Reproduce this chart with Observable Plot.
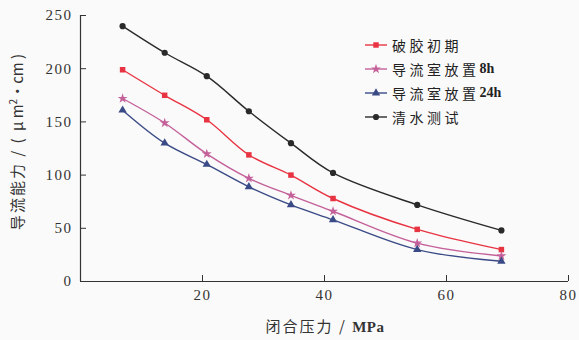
<!DOCTYPE html>
<html><head><meta charset="utf-8">
<script src="https://cdn.jsdelivr.net/npm/d3@7"></script>
<script src="https://cdn.jsdelivr.net/npm/@observablehq/plot@0.6"></script>
<style>
body{margin:0;background:#fafafa;}
#wrap{position:relative;width:579px;height:340px;}
#wrap svg text{font-family:"Liberation Serif",serif;font-size:15px;letter-spacing:1.5px;}
#legend{position:absolute;left:364px;top:33px;font-family:"Noto Sans CJK SC",serif;font-size:14px;color:#222;}
#legend div{display:flex;align-items:center;height:24px;}
#legend svg{margin-right:4px;}
#legend .cjk{letter-spacing:3.5px;}
#legend .lat{font-family:"Liberation Serif",serif;font-weight:bold;font-size:14px;}
</style></head>
<body><div id="wrap"><div id="legend"></div></div>
<script>
const pressure = [6.9, 13.8, 20.7, 27.6, 34.5, 41.4, 55.2, 69];
const seriesNames = ["破胶初期", "导流室放置8h", "导流室放置24h", "清水测试"];
const breakInitial = [199, 175, 152, 119, 100, 78, 49, 30];
const chamber8h = [172, 149, 120, 97, 81, 66, 36, 24];
const chamber24h = [161, 130, 110, 89, 72, 58, 30, 19];
const cleanWater = [240, 215, 193, 160, 130, 102, 72, 48];
const colors = ["#e83442", "#c4609a", "#3a4a86", "#2a2a2a"];
const symbols = ["square", "star", "triangle", "circle"];
const xTicks = [20, 40, 60, 80];
const yTicks = [0, 50, 100, 150, 200, 250];

const allSeries = [breakInitial, chamber8h, chamber24h, cleanWater];
const data = allSeries.flatMap((vals, i) => vals.map((v, j) => ({x: pressure[j], y: v, s: seriesNames[i]})));

const chart = Plot.plot({
  width: 579, height: 340,
  marginLeft: 80, marginRight: 11, marginTop: 15, marginBottom: 59,
  style: {background: "transparent", fontFamily: "'Liberation Serif', serif", fontSize: "15px", color: "#333"},
  x: {domain: [0, 80], ticks: xTicks, tickSize: -6, tickPadding: 14, label: null},
  y: {domain: [0, 250], ticks: yTicks, tickSize: -6, tickPadding: 14, label: null},
  color: {domain: seriesNames, range: colors},
  symbol: {domain: seriesNames, range: symbols},
  marks: [
    Plot.ruleX([0], {stroke: "#333", strokeWidth: 1.2}),
    Plot.ruleY([0], {stroke: "#333", strokeWidth: 1.2}),
    Plot.line(data, {x: "x", y: "y", z: "s", stroke: "s", curve: "catmull-rom", strokeWidth: 1.4}),
    Plot.dot(data, {x: "x", y: "y", fill: "s", symbol: "s", r: 3.1, stroke: "none"})
  ]
});
document.getElementById("wrap").appendChild(chart);

// axis titles
const svg = d3.select(chart);
const xt = svg.append("text").attr("x", 325).attr("y", 332).attr("text-anchor", "middle")
  .style("font-family", "'Noto Sans CJK SC', serif").style("font-size", "15px").style("letter-spacing", "2px").attr("fill", "#333");
xt.append("tspan").text("闭合压力 / ");
xt.append("tspan").style("font-family", "'Liberation Serif', serif").style("font-weight", "bold").style("letter-spacing", "0.5px").text("MPa");

const yt = svg.append("text").attr("transform", "translate(23,142) rotate(-90)").attr("text-anchor", "middle")
  .style("font-family", "'Noto Sans CJK SC', serif").style("font-size", "15px").style("letter-spacing", "2px").attr("fill", "#333");
yt.append("tspan").text("导流能力 / ( ");
yt.append("tspan").style("letter-spacing", "0px").text("μ m");
yt.append("tspan").attr("dy", -6).style("font-size", "10px").style("letter-spacing", "0px").text("2");
yt.append("tspan").attr("dy", 6).style("letter-spacing", "0px").text("·cm )");

// legend
const symGen = [d3.symbolSquare, d3.symbolStar, d3.symbolTriangle, d3.symbolCircle];
const leg = d3.select("#legend");
seriesNames.forEach((n, i) => {
  const row = leg.append("div");
  const s = row.append("svg").attr("width", 24).attr("height", 12);
  s.append("line").attr("x1", 1).attr("x2", 23).attr("y1", 6).attr("y2", 6).attr("stroke", colors[i]).attr("stroke-width", 1.4);
  s.append("path").attr("transform", "translate(12,6)").attr("fill", colors[i]).attr("d", d3.symbol(symGen[i], 30)());
  const m = n.match(/^([^\x00-\x7f]+)(.*)$/);
  row.append("span").attr("class", "cjk").text(m[1]);
  if (m[2]) row.append("span").attr("class", "lat").text(m[2]);
});
</script></body></html>
